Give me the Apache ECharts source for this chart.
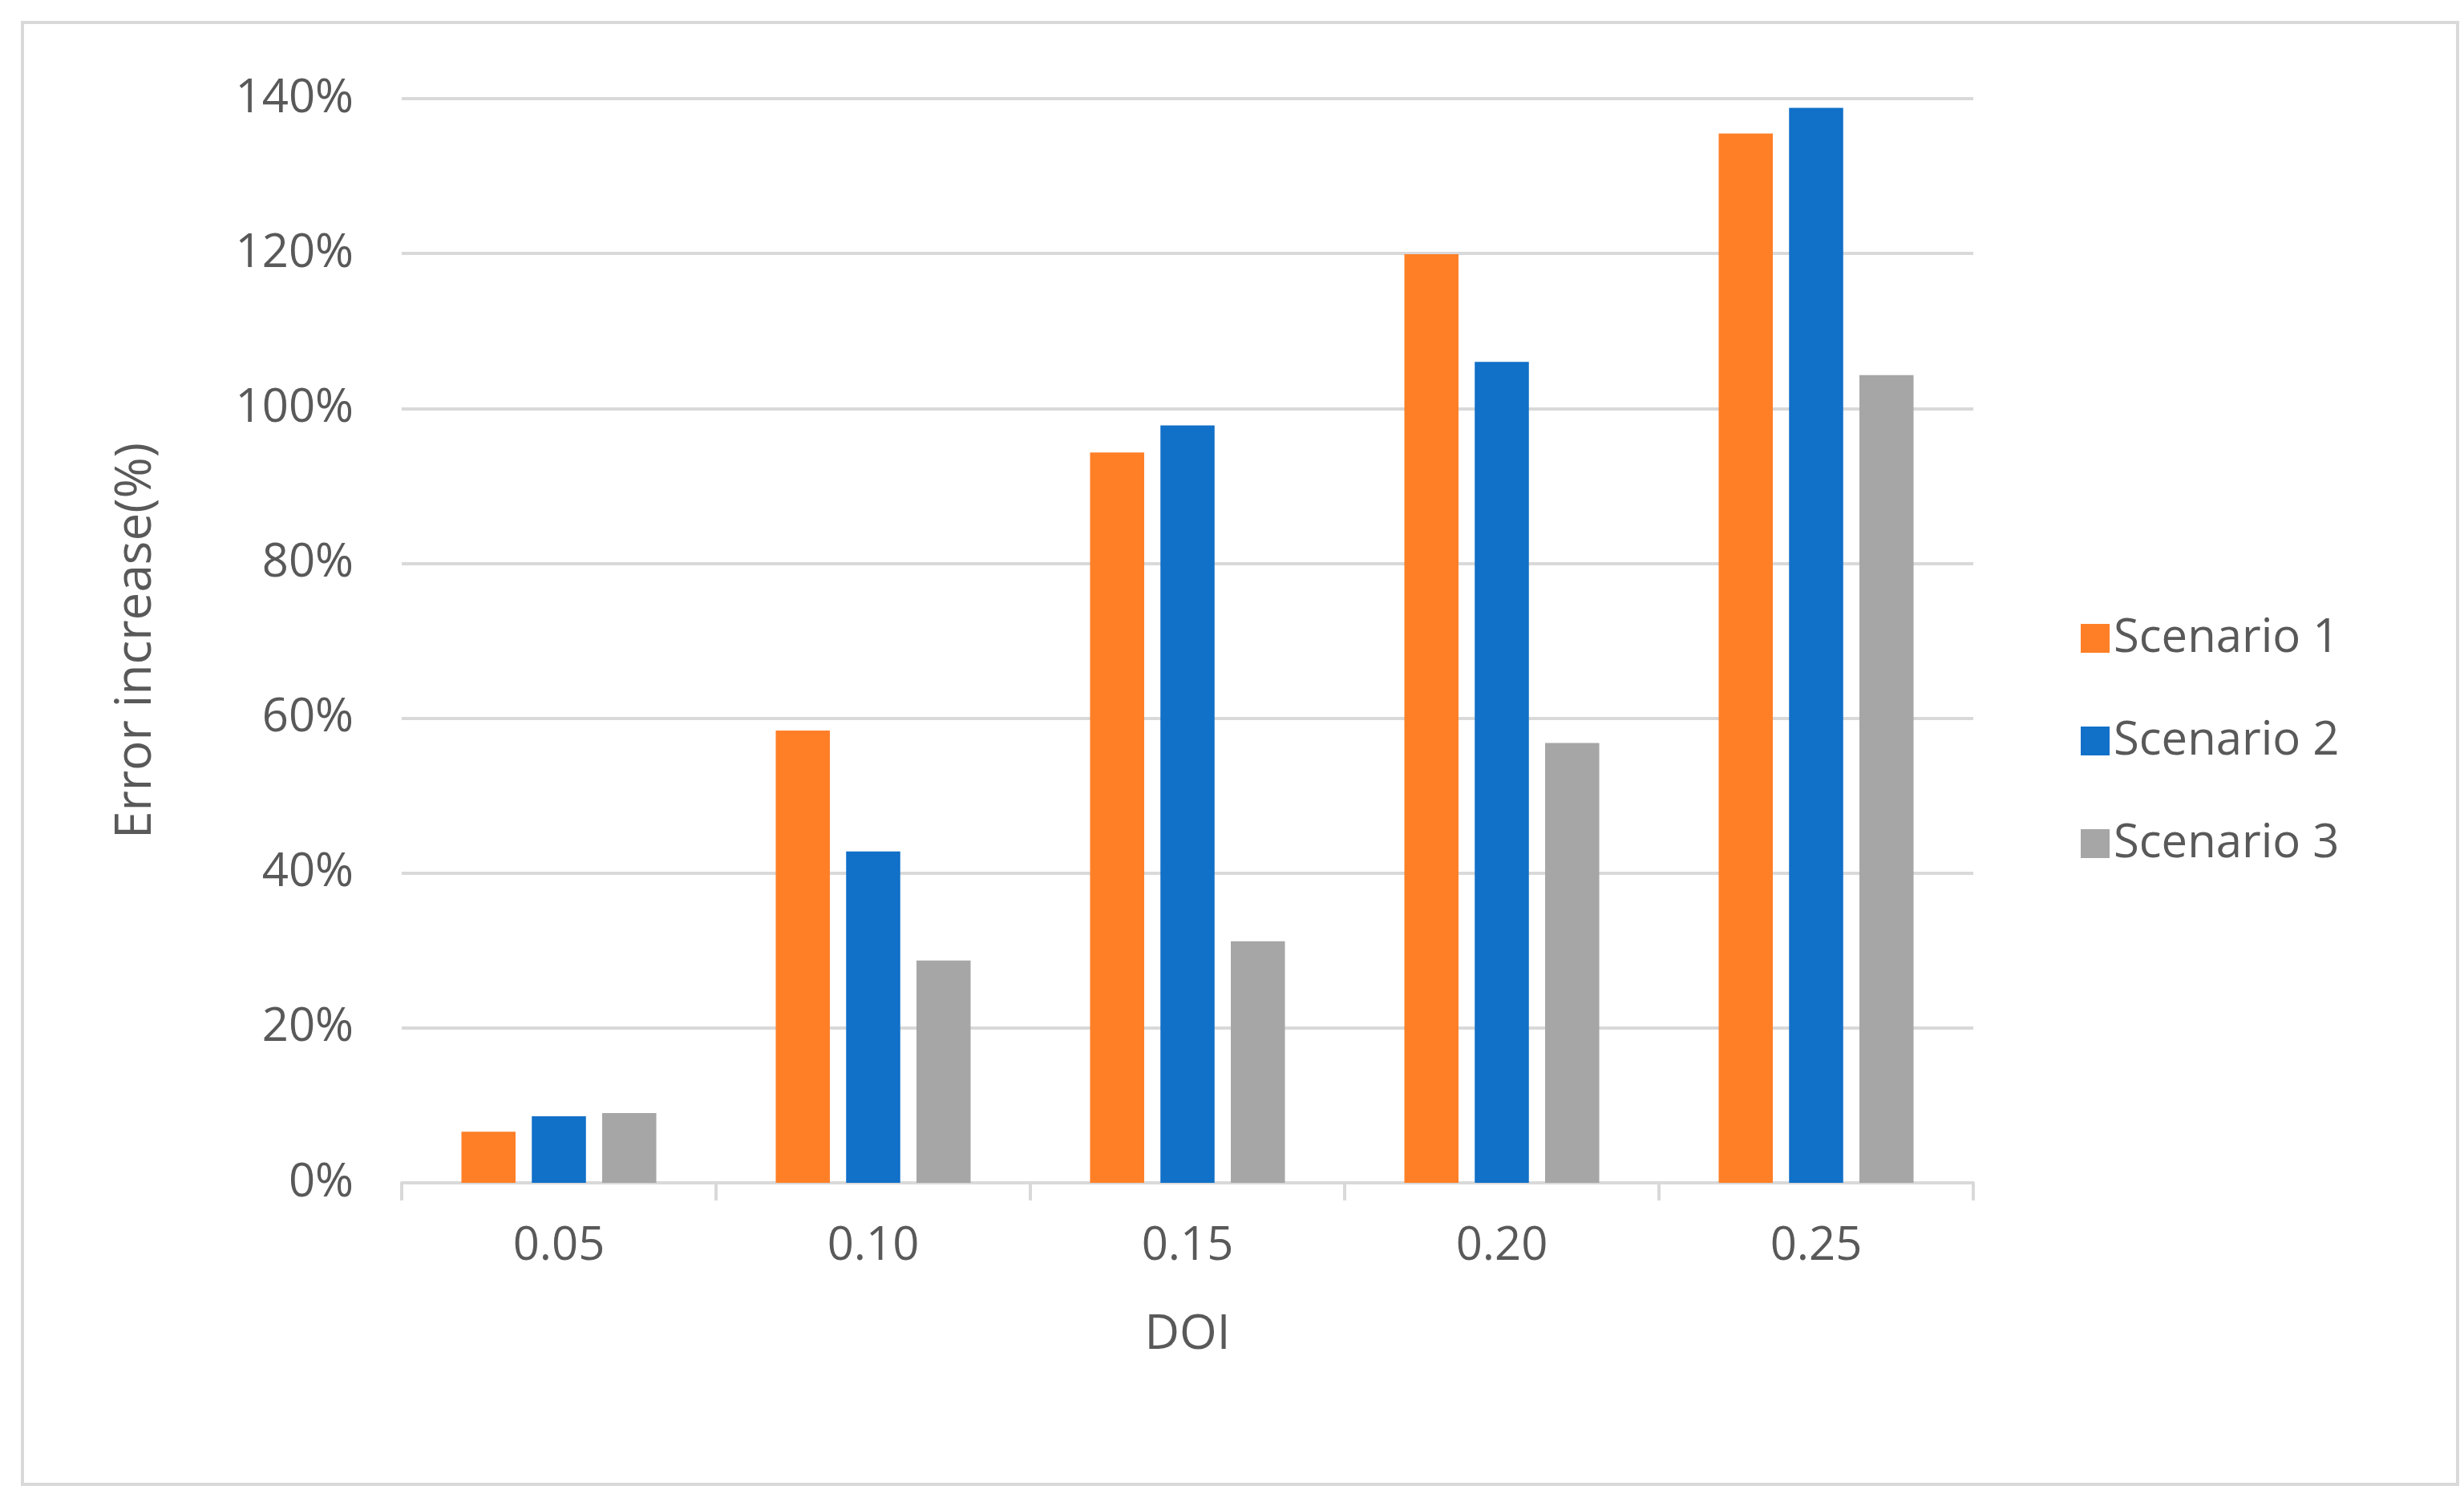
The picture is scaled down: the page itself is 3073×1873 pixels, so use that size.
<!DOCTYPE html>
<html lang="en">
<head>
    <meta charset="UTF-8">
    <title>error increase</title>
    <script src="https://cdn.jsdelivr.net/npm/echarts@6/dist/echarts.min.js"></script>
    <style>
        html, body { margin: 0; padding: 0; background: #fff; }
        #main { width: 3073px; height: 1873px; }
    </style>
</head>
<body>
<div id="main"></div>
<script>
    const categories = ['0.05', '0.10', '0.15', '0.20', '0.25'];
    const scenario1 = [6.6, 58.4, 94.3, 119.9, 135.5];
    const scenario2 = [8.6, 42.8, 97.8, 106.0, 138.8];
    const scenario3 = [9.0, 28.7, 31.2, 56.8, 104.3];

    const font = '"Open Sans", "Noto Sans", sans-serif';
    const textColor = '#595959';

    var myChart = echarts.init(document.getElementById('main'));

    var option = {
        textStyle: { fontFamily: font },
        graphic: [{
            type: 'rect',
            shape: { x: 28, y: 28, width: 3037, height: 1823 },
            style: { fill: 'none', stroke: '#d9d9d9', lineWidth: 4 }
        }],
        grid: { left: 501, right: 612, top: 123, bottom: 398, containLabel: false },
        legend: {
            orient: 'vertical',
            left: 2590,
            top: 762,
            itemWidth: 36,
            itemHeight: 36,
            itemGap: 70,
            icon: 'rect',
            textStyle: { fontSize: 58, color: textColor, fontFamily: font },
            data: ['Scenario 1', 'Scenario 2', 'Scenario 3']
        },
        xAxis: {
            type: 'category',
            data: categories,
            name: 'DOI',
            nameLocation: 'middle',
            nameGap: 160,
            nameTextStyle: { fontSize: 60, color: textColor },
            axisLine: { lineStyle: { color: '#d9d9d9', width: 4 } },
            axisTick: { show: true, length: 22, lineStyle: { color: '#d9d9d9', width: 4 } },
            axisLabel: { fontSize: 58, color: textColor, margin: 50 }
        },
        yAxis: {
            type: 'value',
            min: 0,
            max: 140,
            interval: 20,
            name: 'Error increase(%)',
            nameLocation: 'middle',
            nameGap: 300,
            nameTextStyle: { fontSize: 62, color: textColor },
            axisLine: { show: false },
            axisTick: { show: false },
            axisLabel: { fontSize: 58, color: textColor, margin: 60, formatter: '{value}%' },
            splitLine: { lineStyle: { color: '#d9d9d9', width: 4 } }
        },
        series: [
            { name: 'Scenario 1', type: 'bar', data: scenario1, itemStyle: { color: '#FF7F27' },
              barGap: '30%', barCategoryGap: '38%' },
            { name: 'Scenario 2', type: 'bar', data: scenario2, itemStyle: { color: '#1170C8' } },
            { name: 'Scenario 3', type: 'bar', data: scenario3, itemStyle: { color: '#A6A6A6' } }
        ]
    };

    myChart.setOption(option);
</script>
</body>
</html>
